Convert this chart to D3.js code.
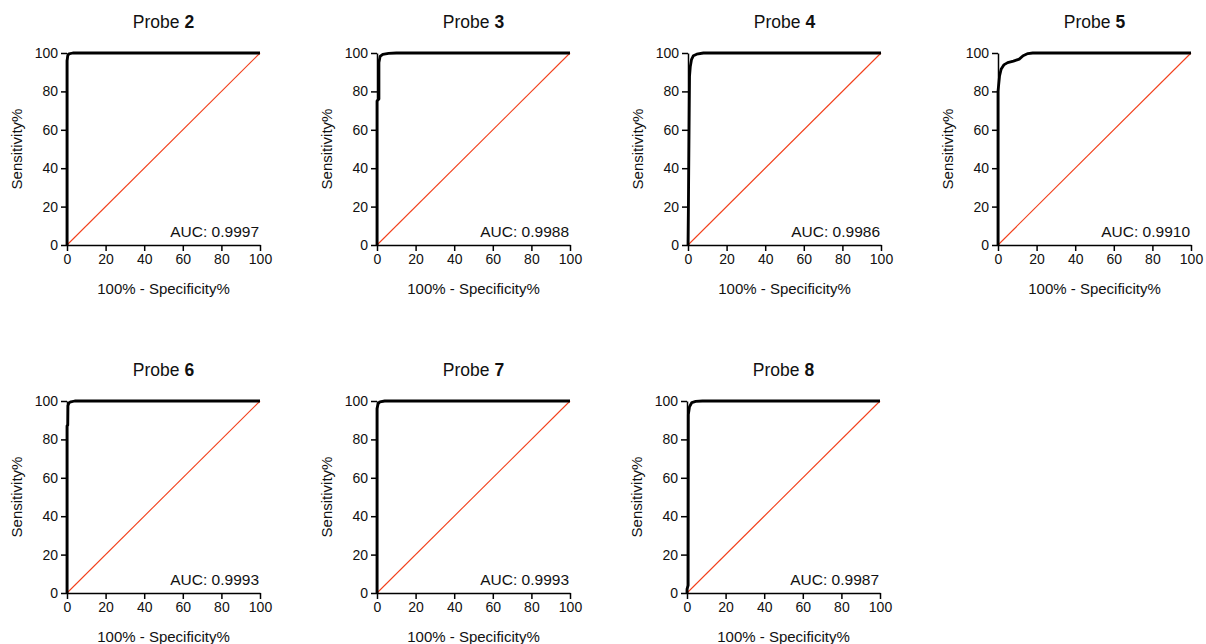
<!DOCTYPE html>
<html>
<head>
<meta charset="utf-8">
<script src="https://cdn.jsdelivr.net/npm/d3@7"></script>
<style>
  body { margin: 0; background: #fff; }
  svg { display: block; font-family: "Liberation Sans", Arial, sans-serif; }
  .tick text { font-size: 14px; fill: #111; }
  .tick line, .domain { stroke: #000; stroke-width: 1.5px; }
</style>
</head>
<body>
<div id="chart"></div>
<script>
const width = 1206;
const height = 644;

const probeNames = ['2', '3', '4', '5', '6', '7', '8'];
const aucValues = ['0.9997', '0.9988', '0.9986', '0.9910', '0.9993', '0.9993', '0.9987'];
const tickValues = [0, 20, 40, 60, 80, 100];

// ROC points per probe: [100% - specificity, sensitivity]
const probe2 = [[0, 0], [0, 96], [0.4, 98.5], [1, 99.6], [3, 100], [100, 100]];
const probe3 = [[0, 0], [0, 75], [1, 76], [1, 95], [1.6, 98.2], [3, 99.3], [6, 99.8], [10, 100], [100, 100]];
const probe4 = [[0, 0], [0.3, 30], [0.8, 88], [1.2, 93], [1.8, 96.5], [2.8, 98.6], [4.5, 99.4], [8, 100], [100, 100]];
const probe5 = [[0, 0], [0, 80], [0.8, 88], [1.6, 91.5], [3, 93.8], [5, 95], [8, 95.8], [11, 96.8], [13, 98.6], [15.5, 99.7], [18, 100], [100, 100]];
const probe6 = [[0, 0], [0, 87], [0.4, 87.5], [0.5, 97.5], [1, 99], [2, 99.6], [4, 100], [100, 100]];
const probe7 = [[0, 0], [0, 96], [0.6, 98.6], [1.5, 99.6], [4, 100], [100, 100]];
const probe8 = [[0, 0], [0, 2], [0.6, 4], [0.7, 93], [1.3, 97], [2.5, 99.2], [4.5, 99.8], [8, 100], [100, 100]];
const curves = [probe2, probe3, probe4, probe5, probe6, probe7, probe8];

const panelLefts = [67, 377, 688, 998];
const panelTops = [53, 401];
const plotW = 193;
const plotH = 192;

const svg = d3.select('#chart').append('svg').attr('width', width).attr('height', height);

const x = d3.scaleLinear().domain([0, 100]).range([0, plotW]);
const y = d3.scaleLinear().domain([0, 100]).range([plotH, 0]);

probeNames.forEach((name, i) => {
  const col = i % 4;
  const row = Math.floor(i / 4);
  const g = svg.append('g').attr('transform', `translate(${panelLefts[col] - (i === 6 ? 1 : 0)},${panelTops[row]})`);

  // chance diagonal
  g.append('line')
    .attr('x1', x(0)).attr('y1', y(0))
    .attr('x2', x(100)).attr('y2', y(100))
    .attr('stroke', '#f2401c')
    .attr('stroke-width', 1.1);

  g.append('g')
    .attr('transform', `translate(0,${plotH})`)
    .call(d3.axisBottom(x).tickValues(tickValues).tickSize(6).tickSizeOuter(0).tickPadding(3));

  g.append('g')
    .call(d3.axisLeft(y).tickValues(tickValues).tickSize(6).tickSizeOuter(0).tickPadding(3));

  g.append('path')
    .datum(curves[i])
    .attr('d', d3.line().x((d) => x(d[0])).y((d) => y(d[1])))
    .attr('fill', 'none')
    .attr('stroke', '#000')
    .attr('stroke-width', 2.8)
    .attr('stroke-linejoin', 'round');

  const title = g.append('text')
    .attr('x', plotW / 2)
    .attr('y', -25)
    .attr('text-anchor', 'middle')
    .style('font-size', '17.5px')
    .attr('fill', '#111');
  title.append('tspan').text('Probe ');
  title.append('tspan').style('font-weight', 'bold').text(name);

  g.append('text')
    .attr('x', plotW - 1)
    .attr('y', plotH - 8)
    .attr('text-anchor', 'end')
    .style('font-size', '15.5px')
    .attr('fill', '#111')
    .text(`AUC: ${aucValues[i]}`);

  g.append('text')
    .attr('x', plotW / 2)
    .attr('y', plotH + 49)
    .attr('text-anchor', 'middle')
    .style('font-size', '15px')
    .attr('fill', '#111')
    .text('100% - Specificity%');

  g.append('text')
    .attr('transform', `translate(-45,${plotH / 2}) rotate(-90)`)
    .attr('text-anchor', 'middle')
    .style('font-size', '15px')
    .attr('fill', '#111')
    .text('Sensitivity%');
});
</script>
</body>
</html>
